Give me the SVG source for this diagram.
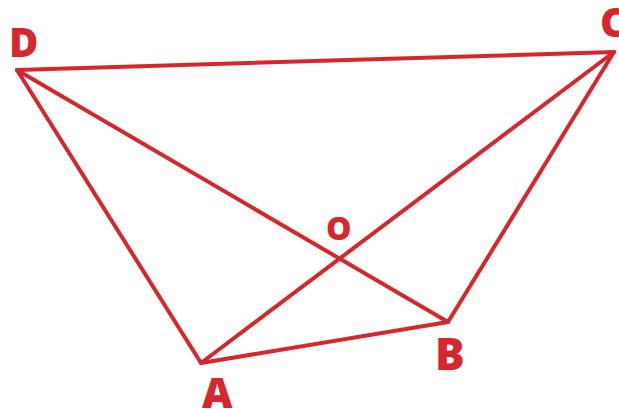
<svg xmlns="http://www.w3.org/2000/svg" width="619" height="409" viewBox="0 0 619 409">
<style>
.e{stroke:#d8262e;stroke-width:4;stroke-linecap:round;fill:none}
.l{fill:#d8262e;font-family:"Open Sans","Liberation Sans",sans-serif;font-weight:800}
</style>
<rect width="619" height="409" fill="#fff"/>
<g id="connectors">
<line class="e" x1="17" y1="70" x2="614" y2="52"/>
<line class="e" x1="17" y1="70" x2="201" y2="363"/>
<line class="e" x1="17" y1="70" x2="448" y2="322"/>
<line class="e" x1="614" y1="52" x2="201" y2="363"/>
<line class="e" x1="614" y1="52" x2="448" y2="322"/>
<line class="e" x1="201" y1="363" x2="448" y2="322"/>
</g>
<g id="D"><text class="l" x="9" y="57" font-size="40">D</text></g>
<g id="C"><text class="l" x="600" y="37" font-size="41">C</text></g>
<g id="A"><text class="l" x="202" y="408" font-size="42">A</text></g>
<g id="B"><text class="l" x="435" y="370" font-size="44">B</text></g>
<g id="O"><text class="l" x="326" y="240" font-size="32">O</text></g>
</svg>
